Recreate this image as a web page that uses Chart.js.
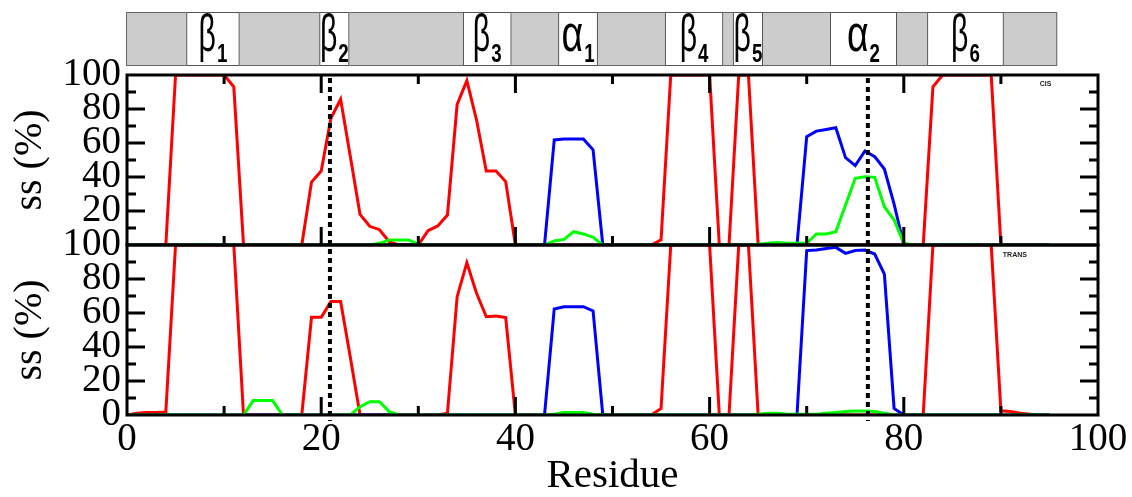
<!DOCTYPE html>
<html>
<head>
<meta charset="utf-8">
<script src="https://cdn.jsdelivr.net/npm/chart.js@4.4.1/dist/chart.umd.min.js"></script>
<style>
  html, body { margin: 0; padding: 0; background: #fff; }
  #wrap { position: relative; width: 1132px; height: 497px; }
</style>
</head>
<body>
<div id="wrap"><canvas id="ssChart" width="1132" height="497"></canvas></div>
<script>
// residue index of the first value in every series
var firstResidue = 0;

// CIS panel (top)
var cisStrand = [
  0, 0, 0, 0, 0, 100, 100, 100, 100, 100,
  100, 93, 0, 0, 0, 0, 0, 0, 0, 37,
  43.5, 74.5, 85.7, 52, 18, 11, 9, 2, 0, 0,
  0, 8.4, 11.2, 17.6, 82.7, 96.7, 73.5, 43.5, 43.5, 37.3,
  0, 0, 0, 0, 0, 0, 0, 0, 0, 0,
  0, 0, 0, 0, 0, 3, 100, 100, 100, 100,
  100, 0, 0, 100, 100, 0, 0, 0, 0, 0,
  0, 0, 0, 0, 0, 0, 0, 0, 0, 0,
  0, 0, 0, 93, 100, 100, 100, 100, 100, 100,
  0, 0, 0, 0, 0, 0
];
var cisHelix = [
  0, 0, 0, 0, 0, 0, 0, 0, 0, 0,
  0, 0, 0, 0, 0, 0, 0, 0, 0, 0,
  0, 0, 0, 0, 0, 0, 0, 0, 0, 0,
  0, 0, 0, 0, 0, 0, 0, 0, 0, 0,
  0, 0, 0, 0, 61.8, 62.3, 62.3, 62.3, 56, 0,
  0, 0, 0, 0, 0, 0, 0, 0, 0, 0,
  0, 0, 0, 0, 0, 0, 0, 0, 0, 0,
  63.7, 67, 68, 69, 51.4, 46.7, 55.3, 52, 44.7, 24,
  0, 0, 0, 0, 0, 0, 0, 0, 0, 0,
  0, 0, 0, 0, 0, 0
];
var cisOther = [
  0, 0, 0, 0, 0, 0, 0, 0, 0, 0,
  0, 0, 0, 0, 0, 0, 0, 0, 0, 0,
  0, 0, 0, 0, 0, 0, 1, 3, 3, 3,
  0.5, 0, 0, 0, 0, 0, 0, 0, 0, 0,
  0, 0, 0, 0, 2.4, 3.3, 7.8, 6.5, 4.5, 0,
  0, 0, 0, 0, 0, 0, 0, 0, 0, 0,
  0, 0, 0, 0, 0, 0.5, 1, 1.5, 1, 1,
  1, 6.5, 6.5, 7.8, 23.5, 39.2, 40.2, 39.8, 22.5, 14.7,
  1, 0, 0, 0, 0, 0, 0, 0, 0, 0,
  0, 0, 0, 0, 0, 0
];

// TRANS panel (bottom)
var transStrand = [
  0, 1, 1.5, 1.5, 1.8, 100, 100, 100, 100, 100,
  100, 100, 0, 0, 0, 0, 0, 0, 0, 57.5,
  57.5, 66.7, 66.7, 34, 0, 0, 0, 0, 0, 0,
  0, 0, 0, 1, 69.6, 89.6, 71.6, 57.8, 58.2, 57.3,
  0, 0, 0, 0, 0, 0, 0, 0, 0, 0,
  0, 0, 0, 0, 0, 3.9, 100, 100, 100, 100,
  100, 0, 0, 100, 100, 0, 0, 0, 0, 0,
  0, 0, 0, 0, 0, 0, 0, 0, 0, 0,
  0, 0, 0, 100, 100, 100, 100, 100, 100, 100,
  2.5, 2, 1, 0.5, 0, 0
];
var transHelix = [
  0, 0, 0, 0, 0, 0, 0, 0, 0, 0,
  0, 0, 0, 0, 0, 0, 0, 0, 0, 0,
  0, 0, 0, 0, 0, 0, 0, 0, 0, 0,
  0, 0, 0, 0, 0, 0, 0, 0, 0, 0,
  0, 0, 0, 0, 62.4, 63.7, 63.7, 63.7, 61.2, 0,
  0, 0, 0, 0, 0, 0, 0, 0, 0, 0,
  0, 0, 0, 0, 0, 0, 0, 0, 0, 0,
  96.7, 97, 98, 98.6, 95.1, 96.7, 97, 94.7, 82.9, 3.9,
  0, 0, 0, 0, 0, 0, 0, 0, 0, 0,
  0, 0, 0, 0, 0, 0
];
var transOther = [
  0, 0, 0, 0, 0, 0, 0, 0, 0, 0,
  0, 0, 0, 8.5, 8.5, 8.5, 0, 0, 0, 0,
  0, 0, 0, 0, 4.9, 7.8, 7.8, 2, 0, 0,
  0, 0, 0, 0, 0, 0, 0, 0, 0, 0,
  0, 0, 0, 0, 0.5, 1.4, 1.5, 1.4, 0.5, 0,
  0, 0, 0, 0, 0, 0, 0, 0, 0, 0,
  0, 0, 0, 0, 0, 0.5, 1, 1, 0.5, 0.5,
  0.5, 0.5, 1, 1.5, 2, 2.3, 2.3, 2, 1, 0,
  0, 0, 0, 0, 0, 0, 0, 0, 0, 0,
  0, 0, 0, 0, 0, 0
];

// secondary structure strip
var stripRange = [-0.1, 95.8];
var ssGlyph = ['β', 'β', 'β', 'α', 'β', 'β', 'α', 'β'];
var ssIndex = ['1', '2', '3', '1', '4', '5', '2', '6'];
var ssStart = [6.1, 19.8, 34.6, 44.4, 55.4, 62.4, 72.4, 82.4];
var ssEnd = [11.6, 22.9, 39.6, 48.5, 61.4, 65.5, 79.3, 90.3];

// dashed markers and panel tags
var markerResidues = [20.9, 76.3];
var panelTags = ['CIS', 'TRANS'];
var tagResidue = [94.0, 90.2];
var tagValue = [94.5, 94.3];

var SERIF = '"Liberation Serif", "Times New Roman", serif';
var SANS = '"Liberation Sans", Arial, sans-serif';

function toPoints(values) {
  return values.map(function (v, i) { return { x: firstResidue + i, y: v }; });
}

function lineSet(values, color, axis) {
  return {
    data: toPoints(values),
    yAxisID: axis,
    borderColor: color,
    backgroundColor: color,
    borderWidth: 3,
    pointRadius: 0,
    tension: 0,
    fill: false
  };
}

function drawLabel(ctx, cx, glyph, sub) {
  var gScale = glyph === 'α' ? 0.72 : 0.58;
  var sScale = 0.72;
  ctx.font = '52px ' + SANS;
  var gw = ctx.measureText(glyph).width * gScale;
  ctx.font = 'bold 26px ' + SANS;
  var sw = ctx.measureText(sub).width * sScale;
  var x0 = cx - (gw + 1 + sw) / 2;
  ctx.fillStyle = '#000';
  ctx.textAlign = 'left';
  ctx.textBaseline = 'alphabetic';
  ctx.save();
  ctx.translate(x0, 51);
  ctx.scale(gScale, 1);
  ctx.font = '52px ' + SANS;
  ctx.fillText(glyph, 0, 0);
  ctx.restore();
  ctx.save();
  ctx.translate(x0 + gw + 1, 62);
  ctx.scale(sScale, 1);
  ctx.font = 'bold 26px ' + SANS;
  ctx.fillText(sub, 0, 0);
  ctx.restore();
}

function drawStrip(chart) {
  var ctx = chart.ctx, xs = chart.scales.x;
  var top = 12, h = 54;
  ctx.save();
  var x0 = xs.getPixelForValue(stripRange[0]), x1 = xs.getPixelForValue(stripRange[1]);
  ctx.fillStyle = '#cccccc';
  ctx.fillRect(x0, top, x1 - x0, h);
  ctx.strokeStyle = '#666';
  ctx.lineWidth = 1;
  ctx.strokeRect(x0 + 0.5, top + 0.5, x1 - x0 - 1, h - 1);
  for (var i = 0; i < ssStart.length; i++) {
    var a = xs.getPixelForValue(ssStart[i]), b = xs.getPixelForValue(ssEnd[i]);
    ctx.fillStyle = '#fff';
    ctx.fillRect(a, top, b - a, h);
    ctx.strokeStyle = '#555';
    ctx.strokeRect(a + 0.5, top + 0.5, b - a - 1, h - 1);
    drawLabel(ctx, (a + b) / 2, ssGlyph[i], ssIndex[i]);
  }
  ctx.restore();
}

function drawPanel(ctx, xs, ys, tickTop) {
  var l = xs.left, r = xs.right, t = ys.top, b = ys.bottom;
  ctx.strokeStyle = '#000';
  ctx.lineWidth = 3;
  ctx.setLineDash([]);
  ctx.strokeRect(l, t, r - l, b - t);
  ctx.beginPath();
  for (var v = 10; v < 100; v += 10) {
    var len = v % 20 === 0 ? 18 : 9;
    var py = ys.getPixelForValue(v);
    ctx.moveTo(l, py); ctx.lineTo(l + len, py);
    ctx.moveTo(r, py); ctx.lineTo(r - len, py);
    var px = xs.getPixelForValue(v);
    if (tickTop) { ctx.moveTo(px, t); ctx.lineTo(px, t + len); }
    ctx.moveTo(px, b); ctx.lineTo(px, b - len);
  }
  ctx.stroke();
}

var decorPlugin = {
  id: 'ssDecor',
  beforeDraw: function (chart) {
    drawStrip(chart);
  },
  afterDatasetsDraw: function (chart) {
    var ctx = chart.ctx, s = chart.scales;
    ctx.save();
    drawPanel(ctx, s.x, s.yCis, true);
    drawPanel(ctx, s.x, s.yTrans, false);

    ctx.strokeStyle = '#000';
    ctx.lineWidth = 4;
    ctx.setLineDash([5, 4]);
    for (var i = 0; i < markerResidues.length; i++) {
      var px = s.x.getPixelForValue(markerResidues[i]);
      ctx.beginPath();
      ctx.moveTo(px, s.yCis.top + 3);
      ctx.lineTo(px, s.yTrans.bottom + 6);
      ctx.stroke();
    }
    ctx.setLineDash([]);

    ctx.fillStyle = '#222';
    ctx.font = 'bold 7px ' + SANS;
    ctx.textAlign = 'left';
    ctx.textBaseline = 'middle';
    var axes = [s.yCis, s.yTrans];
    for (var k = 0; k < panelTags.length; k++) {
      ctx.fillText(panelTags[k], s.x.getPixelForValue(tagResidue[k]), axes[k].getPixelForValue(tagValue[k]));
    }
    ctx.restore();
  }
};

function yAxis(weight, hideZero) {
  return {
    type: 'linear',
    position: 'left',
    stack: 'ss',
    stackWeight: 1,
    weight: weight,
    min: 0,
    max: 100,
    grid: { display: false, drawTicks: false },
    border: { display: false },
    ticks: {
      stepSize: 20,
      autoSkip: false,
      padding: 6,
      color: '#000',
      font: { family: SERIF, size: 39, lineHeight: 1 },
      callback: function (v) { return (hideZero && v === 0) ? '' : v; }
    },
    title: {
      display: true,
      text: 'ss (%)',
      color: '#000',
      font: { family: SERIF, size: 40, lineHeight: 1.2 },
      padding: { top: 6, bottom: 0 }
    },
    afterFit: function (sc) { sc.width = 127; sc.paddingTop = 0; sc.paddingBottom = 0; }
  };
}

new Chart(document.getElementById('ssChart'), {
  type: 'line',
  data: {
    datasets: [
      lineSet(cisOther, '#00ff00', 'yCis'),
      lineSet(cisHelix, '#0000ff', 'yCis'),
      lineSet(cisStrand, '#ff0000', 'yCis'),
      lineSet(transOther, '#00ff00', 'yTrans'),
      lineSet(transHelix, '#0000ff', 'yTrans'),
      lineSet(transStrand, '#ff0000', 'yTrans')
    ]
  },
  options: {
    responsive: false,
    animation: false,
    events: [],
    layout: { padding: { top: 75, right: 34, left: 0, bottom: 0 } },
    plugins: { legend: { display: false }, tooltip: { enabled: false } },
    scales: {
      x: {
        type: 'linear',
        min: 0,
        max: 100,
        grid: { display: false, drawTicks: false },
        border: { display: false },
        ticks: {
          stepSize: 20,
          padding: 5,
          maxRotation: 0,
          color: '#000',
          font: { family: SERIF, size: 39, lineHeight: 1 }
        },
        title: {
          display: true,
          text: 'Residue',
          color: '#000',
          font: { family: SERIF, size: 41, lineHeight: 1 },
          padding: { top: 0, bottom: 0 }
        },
        afterFit: function (sc) { sc.height = 82; sc.paddingLeft = 0; sc.paddingRight = 0; }
      },
      yTrans: yAxis(1, false),
      yCis: yAxis(2, true)
    }
  },
  plugins: [decorPlugin]
});
</script>
</body>
</html>
